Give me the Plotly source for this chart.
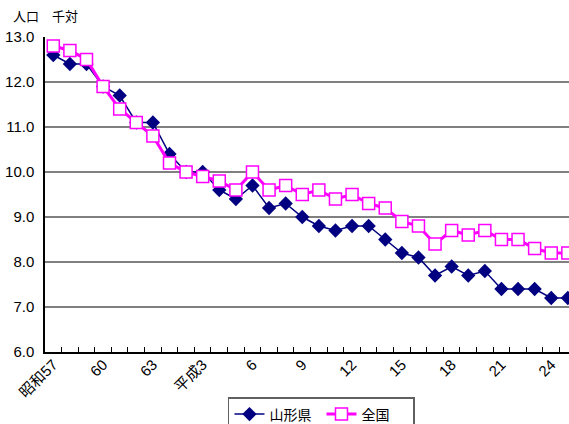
import plotly.graph_objects as go

# 年次（昭和57年〜平成25年）
years = (["昭和" + str(n) for n in range(57, 64)] + ["平成元"]
         + ["平成" + str(n) for n in range(2, 26)])
tick_labels = {"昭和57": "昭和57", "昭和60": "60", "昭和63": "63", "平成3": "平成3",
               "平成6": "6", "平成9": "9", "平成12": "12", "平成15": "15",
               "平成18": "18", "平成21": "21", "平成24": "24"}

# 出生率（人口千対）
yamagata = [12.6, 12.4, 12.4, 11.9, 11.7, 11.1, 11.1, 10.4, 10.0, 10.0,
            9.6, 9.4, 9.7, 9.2, 9.3, 9.0, 8.8, 8.7, 8.8, 8.8,
            8.5, 8.2, 8.1, 7.7, 7.9, 7.7, 7.8, 7.4, 7.4, 7.4,
            7.2, 7.2]
zenkoku = [12.8, 12.7, 12.5, 11.9, 11.4, 11.1, 10.8, 10.2, 10.0, 9.9,
           9.8, 9.6, 10.0, 9.6, 9.7, 9.5, 9.6, 9.4, 9.5, 9.3,
           9.2, 8.9, 8.8, 8.4, 8.7, 8.6, 8.7, 8.5, 8.5, 8.3,
           8.2, 8.2]

# 年次は等間隔の位置に置き、目盛は年次の境界に付ける
pos = list(range(len(years)))
label_pos = [i for i, y in enumerate(years) if y in tick_labels]
label_text = [tick_labels[years[i]] for i in label_pos]
boundaries = [i + 0.5 for i in pos[:-1]]
x_range = [-0.5, 31.07]

font_family = "Liberation Sans, Arial, Noto Sans CJK JP, sans-serif"

fig = go.Figure()
fig.add_trace(go.Scatter(
    x=pos, y=yamagata, name="山形県", mode="lines+markers", text=years,
    line=dict(color="#000080", width=1.5),
    marker=dict(symbol="diamond", size=11, color="#000080",
                line=dict(color="#000080", width=0)),
))
fig.add_trace(go.Scatter(
    x=pos, y=zenkoku, name="全国", mode="lines+markers", text=years,
    xaxis="x2",
    line=dict(color="#FF00FF", width=3),
    marker=dict(symbol="square", size=12, color="white",
                line=dict(color="#FF00FF", width=1.5)),
))

fig.update_layout(
    width=569, height=424,
    margin=dict(l=45, r=0, t=37, b=72, autoexpand=False),
    paper_bgcolor="white", plot_bgcolor="white",
    font=dict(family=font_family, color="black", size=14),
    showlegend=True,
    legend=dict(
        orientation="h", xref="container", yref="container",
        x=0.565, xanchor="center", y=1 - 397 / 424, yanchor="top",
        bordercolor="#606060", borderwidth=1.5, bgcolor="white",
        font=dict(size=14, family="Noto Sans CJK JP, sans-serif"),
        entrywidth=47, itemwidth=30, tracegroupgap=0,
    ),
    # 境界の目盛（内向き）
    xaxis=dict(
        range=x_range, automargin=False,
        tickmode="array", tickvals=boundaries,
        ticktext=["" for _ in boundaries],
        ticks="inside", ticklen=5, tickcolor="black", tickwidth=1,
        showline=True, linecolor="black", linewidth=1.5,
        showgrid=False, zeroline=False,
    ),
    # 年次ラベル
    xaxis2=dict(
        overlaying="x", matches="x", anchor="y", side="bottom",
        range=x_range, automargin=False,
        tickmode="array", tickvals=label_pos, ticktext=label_text,
        tickangle=-45, ticks="", showline=False,
        showgrid=False, zeroline=False,
        tickfont=dict(size=15, family="Liberation Sans, Noto Sans CJK JP, sans-serif"),
    ),
    yaxis=dict(
        range=[6, 13], dtick=1, tickformat=".1f", automargin=False,
        showgrid=True, gridcolor="#808080", gridwidth=1.5,
        showline=True, linecolor="black", linewidth=1.5,
        ticks="", zeroline=False,
        tickfont=dict(size=15),
        ticklabelstandoff=6,
    ),
    annotations=[dict(
        text="人口　千対", xref="paper", yref="paper",
        x=-0.065, y=1.0, xanchor="left", yanchor="bottom", yshift=10,
        showarrow=False, font=dict(size=13, family="Noto Sans CJK JP, sans-serif"),
    )],
)

fig.write_html("out.html")
